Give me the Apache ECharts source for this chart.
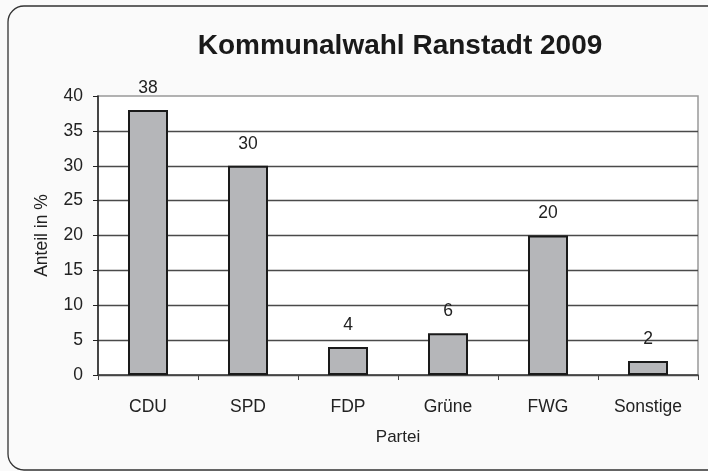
<!DOCTYPE html>
<html>
<head>
<meta charset="utf-8">
<script src="https://cdn.jsdelivr.net/npm/echarts@6/dist/echarts.min.js"></script>
<style>
html,body{margin:0;padding:0;background:#fafafa;}
#c{width:708px;height:471px;}
</style>
</head>
<body>
<div id="c"></div>
<script>
const categories = ['CDU', 'SPD', 'FDP', 'Grüne', 'FWG', 'Sonstige'];
const values = [38, 30, 4, 6, 20, 2];
const titleText = 'Kommunalwahl Ranstadt 2009';
const xName = 'Partei';
const yName = 'Anteil in %';

const chart = echarts.init(document.getElementById('c'), null, {renderer: 'canvas'});
const font = 'Liberation Sans, Arial, sans-serif';
chart.setOption({
  backgroundColor: '#fafafa',
  animation: false,
  graphic: [{
    type: 'rect',
    shape: {x: 8, y: 6, width: 760, height: 464, r: 16},
    style: {fill: 'none', stroke: '#333', lineWidth: 1.3},
    z: -1
  }],
  title: {
    text: titleText,
    left: 395,
    textAlign: 'center',
    top: 27,
    textStyle: {fontFamily: font, fontWeight: 'bold', fontSize: 28, color: '#1a1a1a'}
  },
  grid: {
    left: 98, right: 10, top: 96, bottom: 96,
    show: true, borderColor: '#999', borderWidth: 1.5, backgroundColor: '#fff'
  },
  xAxis: {
    type: 'category',
    data: categories,
    name: xName,
    nameLocation: 'middle',
    nameGap: 54,
    nameTextStyle: {fontFamily: font, fontSize: 17, color: '#222', verticalAlign: 'top'},
    axisLine: {lineStyle: {color: '#444', width: 1.5}},
    axisTick: {show: true, length: 5, lineStyle: {color: '#444'}},
    axisLabel: {fontFamily: font, fontSize: 17.5, color: '#222', margin: 23, verticalAlign: 'top'}
  },
  yAxis: {
    type: 'value',
    min: 0, max: 40, interval: 5,
    name: yName,
    nameLocation: 'middle',
    nameGap: 47,
    nameRotate: 90,
    nameTextStyle: {fontFamily: font, fontSize: 17.5, color: '#222'},
    axisLine: {show: true, lineStyle: {color: '#222', width: 1.5}},
    axisTick: {show: true, length: 5, lineStyle: {color: '#222'}},
    axisLabel: {fontFamily: font, fontSize: 17.5, color: '#222', margin: 15},
    splitLine: {show: true, showMaxLine: false, lineStyle: {color: '#4a4a4a', width: 1.3}}
  },
  series: [{
    type: 'bar',
    data: values,
    barWidth: 40,
    itemStyle: {color: '#b5b6b9', borderColor: '#1a1a1a', borderWidth: 2},
    label: {
      show: true, position: 'top', distance: 13,
      fontFamily: font, fontSize: 17.5, color: '#222'
    }
  }]
});
</script>
</body>
</html>
